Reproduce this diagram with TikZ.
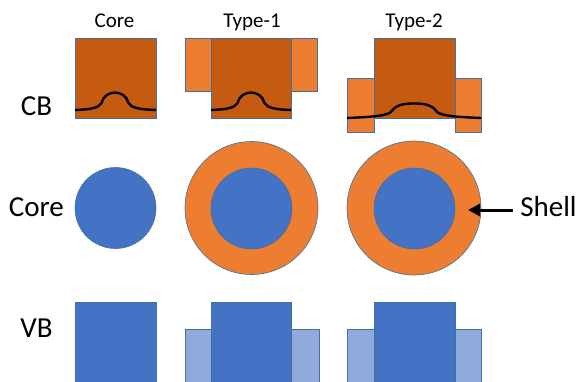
\documentclass[tikz,border=0pt]{standalone}
\usepackage{fontspec}
\setmainfont{Carlito}
\usetikzlibrary{arrows.meta}
\definecolor{cbdark}{HTML}{C55A11}
\definecolor{orangeL}{HTML}{ED7D31}
\definecolor{blueM}{HTML}{4472C4}
\definecolor{blueL}{HTML}{8FAADC}
\definecolor{edgeC}{HTML}{41719C}
\tikzset{
  shp/.style={draw=edgeC, line width=0.6pt},
  cbmain/.style={shp, fill=cbdark},
  cbside/.style={shp, fill=orangeL},
  vbmain/.style={shp, fill=blueM},
  vbside/.style={shp, fill=blueL},
  band/.style={line width=2.4pt, black},
  collab/.style={font=\fontsize{21}{24}\selectfont, inner sep=0pt, anchor=base},
  rowlab/.style={font=\fontsize{29}{34}\selectfont, inner sep=0pt, anchor=base},
}
\begin{document}
\begin{tikzpicture}[x=1pt,y=-1pt]
\useasboundingbox (0,0) rectangle (579,381);
\clip (0,0) rectangle (579,381);
% column labels
\node[collab] (c1) at (114.5,27.7) {Core};
\node[collab] (c2) at (252,27.7) {Type-1};
\node[collab] (c3) at (414,27.7) {Type-2};
% row labels
\node[rowlab] (rCB) at (36.5,115) {CB};
\node[rowlab] (rCore) at (36.3,216.7) {Core};
\node[rowlab] (rVB) at (36.5,337) {VB};
% CB row
\draw[cbmain] (75,38) rectangle (156,118);
\draw[band] (75,110) .. controls (90,109.5) and (99,108) .. (101.5,103)
  .. controls (105,89) and (125,89) .. (128.5,103)
  .. controls (131,108) and (140,109.5) .. (156,110);
\draw[cbside] (185,38) rectangle (211,91);
\draw[cbside] (291,38) rectangle (317,91);
\draw[cbmain] (211,38) rectangle (291,118);
\draw[band] (211,110) .. controls (226,109.5) and (235,108) .. (237.5,103)
  .. controls (241,89) and (261,89) .. (264.5,103)
  .. controls (267,108) and (276,109.5) .. (291,110);
\draw[cbside] (347,78) rectangle (374,132);
\draw[cbside] (455,78) rectangle (481,132);
\draw[cbmain] (374,38) rectangle (455,118);
\draw[band] (347,118) .. controls (370,117) and (386,116) .. (391,112)
  .. controls (396,104) and (406,103.5) .. (414,103.5)
  .. controls (422,103.5) and (432,104) .. (437,112)
  .. controls (442,116) and (458,117) .. (481,118);
% Core row
\draw[shp, fill=blueM] (115.5,208) circle (40.5);
\draw[shp, fill=orangeL] (251.5,208) circle (66.5);
\draw[shp, fill=blueM] (251.5,208.5) circle (40.5);
\draw[shp, fill=orangeL] (414,208) circle (67);
\draw[shp, fill=blueM] (414.5,208.5) circle (40.5);
\node[rowlab] (shell) at (548.5,216.7) {Shell};
\coordinate (tail) at (513,210);
\coordinate (tip) at (468,210);
\draw[line width=3pt, -{Triangle[length=12pt,width=12pt]}] (tail) -- (tip);
% VB row
\draw[vbmain] (75,302) rectangle (156,390);
\draw[vbside] (185,329) rectangle (211,390);
\draw[vbside] (291.5,329) rectangle (319,390);
\draw[vbmain] (211,302) rectangle (291.5,390);
\draw[vbside] (347,329) rectangle (374,390);
\draw[vbside] (455,329) rectangle (481,390);
\draw[vbmain] (374,302) rectangle (455,390);
\end{tikzpicture}
\end{document}
